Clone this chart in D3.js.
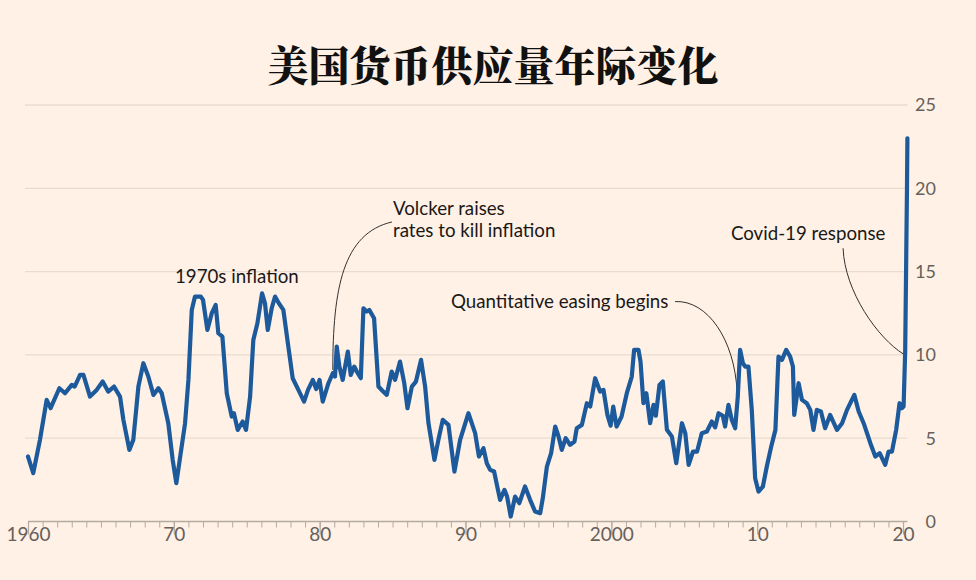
<!DOCTYPE html>
<html>
<head>
<meta charset="utf-8">
<script src="https://cdn.jsdelivr.net/npm/d3@7"></script>
<style>
  html, body { margin: 0; padding: 0; background: #fff1e5; }
  svg { display: block; }
</style>
</head>
<body>
<svg id="chart" width="976" height="580"></svg>
<script>
// ---- Data ----
const title = "美国货币供应量年际变化";

// decimal year of each reading
const dates = [
  1960.0, 1960.36, 1960.82, 1961.28, 1961.55, 1962.15, 1962.54, 1963.0, 1963.2, 1963.57,
  1963.8, 1964.25, 1964.71, 1965.12, 1965.5, 1965.9, 1966.31, 1966.54, 1966.95, 1967.22,
  1967.57, 1967.91, 1968.25, 1968.6, 1968.94, 1969.17, 1969.62, 1969.92, 1970.17, 1970.77,
  1971.0, 1971.23, 1971.45, 1971.85, 1972.0, 1972.3, 1972.6, 1972.87, 1973.05, 1973.33,
  1973.63, 1973.97, 1974.12, 1974.38, 1974.72, 1974.95, 1975.23, 1975.45, 1975.73, 1976.05,
  1976.25, 1976.44, 1976.71, 1976.94, 1977.2, 1977.51, 1977.85, 1978.15, 1978.54, 1978.93,
  1979.2, 1979.53, 1979.76, 1979.99, 1980.21, 1980.6, 1980.9, 1981.05, 1981.17, 1981.35,
  1981.58, 1981.93, 1982.13, 1982.37, 1982.55, 1982.82, 1983.0, 1983.22, 1983.4, 1983.73,
  1984.03, 1984.3, 1984.6, 1984.94, 1985.17, 1985.51, 1985.8, 1986.02, 1986.32, 1986.6,
  1986.95, 1987.23, 1987.46, 1987.87, 1988.14, 1988.44, 1988.83, 1989.24, 1989.63, 1990.2,
  1990.66, 1990.92, 1991.23, 1991.46, 1991.69, 1991.96, 1992.37, 1992.67, 1992.85, 1993.1,
  1993.4, 1993.69, 1994.08, 1994.43, 1994.77, 1995.12, 1995.3, 1995.58, 1995.87, 1996.15,
  1996.38, 1996.6, 1996.87, 1997.17, 1997.47, 1997.63, 1997.98, 1998.32, 1998.55, 1998.89,
  1999.23, 1999.46, 1999.73, 1999.95, 2000.13, 2000.36, 2000.7, 2001.06, 2001.4, 2001.56,
  2001.86, 2002.0, 2002.2, 2002.4, 2002.66, 2002.89, 2003.05, 2003.3, 2003.53, 2003.81,
  2004.15, 2004.45, 2004.84, 2005.07, 2005.3, 2005.6, 2005.88, 2006.2, 2006.55, 2006.89,
  2007.12, 2007.35, 2007.64, 2007.8, 2008.03, 2008.26, 2008.49, 2008.67, 2008.83, 2009.02,
  2009.18, 2009.4, 2009.63, 2009.86, 2010.09, 2010.39, 2010.66, 2010.95, 2011.25, 2011.46,
  2011.7, 2011.99, 2012.26, 2012.45, 2012.54, 2012.84, 2013.07, 2013.4, 2013.64, 2013.86,
  2014.09, 2014.37, 2014.66, 2015.0, 2015.47, 2015.82, 2016.16, 2016.66, 2016.96, 2017.3,
  2017.76, 2018.1, 2018.4, 2018.78, 2019.01, 2019.24, 2019.53, 2019.76, 2019.92, 2020.04,
  2020.15, 2020.27, 2020.3
];

// annual change in US money supply, %
const growth = [
  3.9, 2.9, 4.9, 7.3, 6.8, 8.0, 7.7, 8.2, 8.1, 8.8,
  8.8, 7.5, 7.9, 8.4, 7.8, 8.1, 7.5, 6.1, 4.3, 4.9,
  8.1, 9.5, 8.7, 7.6, 8.0, 7.7, 5.9, 3.7, 2.3, 5.9,
  8.5, 12.7, 13.5, 13.5, 13.3, 11.5, 12.5, 13.0, 11.3, 11.1,
  7.7, 6.3, 6.5, 5.5, 6.0, 5.5, 7.5, 10.9, 11.9, 13.7,
  13.1, 11.5, 12.8, 13.5, 13.1, 12.7, 10.5, 8.6, 7.9, 7.2,
  7.9, 8.5, 7.95, 8.5, 7.2, 8.3, 8.9, 8.7, 10.5, 9.3,
  8.5, 10.2, 8.8, 9.3, 9.0, 8.6, 12.8, 12.6, 12.7, 12.2,
  8.1, 7.85, 7.6, 9.0, 8.5, 9.6, 8.3, 6.8, 8.1, 8.4,
  9.7, 8.1, 5.9, 3.7, 4.9, 6.1, 5.8, 3.0, 4.9, 6.5,
  5.3, 3.9, 4.4, 3.5, 3.1, 3.0, 1.3, 1.9, 1.5, 0.3,
  1.5, 1.1, 2.1, 1.3, 0.6, 0.5, 1.4, 3.3, 4.1, 5.7,
  5.1, 4.3, 5.0, 4.6, 4.8, 5.6, 5.8, 7.1, 6.9, 8.6,
  7.8, 7.9, 6.4, 5.75, 6.9, 5.7, 6.3, 7.7, 8.7, 10.3,
  10.3, 9.6, 7.1, 7.7, 5.9, 7.0, 6.35, 8.2, 8.4, 5.5,
  5.1, 3.5, 5.9, 5.3, 3.4, 4.2, 4.2, 5.3, 5.4, 6.0,
  5.65, 6.5, 6.35, 5.7, 7.0, 6.1, 5.6, 7.5, 10.3, 9.5,
  9.3, 9.3, 6.7, 2.6, 1.8, 2.1, 3.3, 4.45, 5.5, 9.9,
  9.7, 10.3, 9.9, 9.3, 6.4, 8.3, 7.3, 7.1, 6.7, 5.5,
  6.7, 6.6, 5.6, 6.4, 5.5, 5.9, 6.7, 7.6, 6.6, 5.9,
  4.7, 3.9, 4.1, 3.4, 4.2, 4.2, 5.5, 7.1, 6.8, 6.9,
  10.3, 19.9, 23.0
];

// axis ticks
const yTicks = [0, 5, 10, 15, 20, 25];
const xMajorTicks = [1960, 1970, 1980, 1990, 2000, 2010, 2020];
const xMajorLabels = ["1960", "70", "80", "90", "2000", "10", "20"];
const xMinorTicks = d3.range(1960, 2021);

// annotations: text lines anchored at (year, value)
const noteTexts = [
  ["1970s inflation"],
  ["Volcker raises", "rates to kill inflation"],
  ["Quantitative easing begins"],
  ["Covid-19 response"]
];
const noteAnchors = [[1970.08, 14.3], [1985.03, 18.4], [1989.0, 12.8], [2008.2, 16.9]];
// connector curves: start, control 1, control 2, end  (year, value)
const noteCurves = [
  null,
  [[1984.96, 17.98], [1981.6, 17.3], [1980.9, 14.0], [1980.9, 9.1]],
  [[2004.37, 13.2], [2006.6, 13.3], [2008.45, 10.9], [2008.62, 7.8]],
  [[2015.89, 16.4], [2016.0, 13.8], [2018.28, 11.0], [2020.03, 10.05]]
];

// ---- Drawing ----
const svg = d3.select("#chart");
const W = 976, H = 580;
svg.append("rect").attr("width", W).attr("height", H).attr("fill", "#fff1e5");

const x = d3.scaleLinear().domain([1960, 2020.3]).range([28, 907.4]);
const y = d3.scaleLinear().domain([0, 25]).range([521.5, 105]);

const sansFont = "Lato, 'Open Sans', sans-serif";

// title
svg.append("text")
  .attr("x", 493).attr("y", 81)
  .attr("text-anchor", "middle")
  .attr("font-family", "'Noto Serif CJK SC', 'Noto Sans CJK SC', serif")
  .attr("font-weight", 900)
  .attr("font-size", 41)
  .attr("fill", "#111")
  .text(title);

// gridlines
svg.append("g").selectAll("line")
  .data(yTicks.filter(d => d > 0))
  .join("line")
  .attr("x1", 25).attr("x2", x.range()[1])
  .attr("y1", d => y(d)).attr("y2", d => y(d))
  .attr("stroke", "#e8dbd0").attr("stroke-width", 1.3);

// y labels (right)
svg.append("g").selectAll("text")
  .data(yTicks)
  .join("text")
  .attr("x", 936).attr("y", d => y(d))
  .attr("dy", "0.36em")
  .attr("text-anchor", "end")
  .attr("font-family", sansFont)
  .attr("font-size", 18)
  .attr("fill", "#66605c")
  .text(d => d);

// x axis: minor and major ticks via d3 axes
const axisG = svg.append("g").attr("transform", `translate(0,${y(0)})`);
axisG.append("g")
  .call(d3.axisBottom(x).tickValues(xMinorTicks).tickSize(6).tickFormat(""))
  .call(g => g.select(".domain").remove())
  .call(g => g.selectAll(".tick line").attr("stroke", "#b5aaa1").attr("stroke-width", 1));
axisG.append("g")
  .call(d3.axisBottom(x).tickValues(xMajorTicks).tickSize(13)
        .tickFormat((d, i) => xMajorLabels[i]).tickPadding(7))
  .call(g => g.select(".domain").attr("stroke", "#b5aaa1").attr("stroke-width", 1.3)
        .attr("d", `M${x.range()[0]},0H${x.range()[1]}`))
  .call(g => g.selectAll(".tick line").attr("stroke", "#b5aaa1").attr("stroke-width", 1.2))
  .call(g => g.selectAll(".tick text")
        .attr("font-family", sansFont).attr("font-size", 19)
        .attr("fill", "#66605c").attr("dy", "0.55em").attr("y", 9));

// connectors
const curveG = svg.append("g");
noteCurves.forEach(c => {
  if (!c) return;
  const p = d3.path();
  p.moveTo(x(c[0][0]), y(c[0][1]));
  p.bezierCurveTo(x(c[1][0]), y(c[1][1]), x(c[2][0]), y(c[2][1]), x(c[3][0]), y(c[3][1]));
  curveG.append("path").attr("d", p.toString())
    .attr("fill", "none").attr("stroke", "#33302e").attr("stroke-width", 1);
});

// line
const line = d3.line()
  .x((d, i) => x(dates[i]))
  .y(d => y(d))
  .curve(d3.curveLinear);
svg.append("path")
  .datum(growth)
  .attr("d", line)
  .attr("fill", "none")
  .attr("stroke", "#1d5a9c")
  .attr("stroke-width", 4.2)
  .attr("stroke-linejoin", "round")
  .attr("stroke-linecap", "round");

// annotation texts
noteTexts.forEach((lines, i) => {
  const t = svg.append("text")
    .attr("x", x(noteAnchors[i][0]))
    .attr("y", y(noteAnchors[i][1]))
    .attr("font-family", sansFont)
    .attr("font-size", 18.7)
    .attr("fill", "#1a1817");
  lines.forEach((s, j) => {
    t.append("tspan").attr("x", x(noteAnchors[i][0])).attr("dy", j === 0 ? 0 : 22).text(s);
  });
});
</script>
</body>
</html>
